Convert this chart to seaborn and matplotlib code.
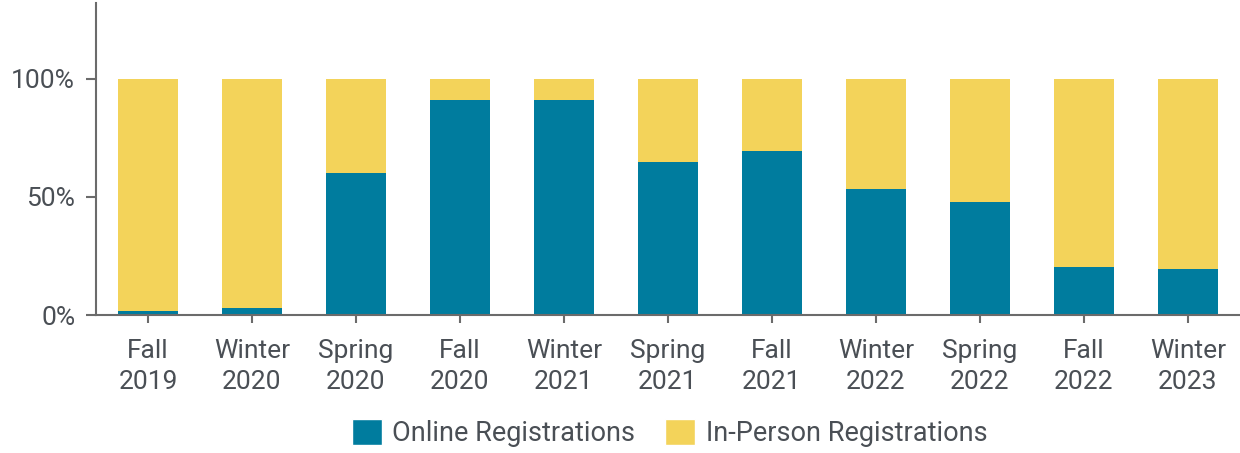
import matplotlib
matplotlib.use("Agg")
import matplotlib.pyplot as plt
import seaborn as sns
import pandas as pd
from matplotlib.patches import Patch
from matplotlib.ticker import FuncFormatter

terms = ["Fall\n2019", "Winter\n2020", "Spring\n2020", "Fall\n2020", "Winter\n2021",
         "Spring\n2021", "Fall\n2021", "Winter\n2022", "Spring\n2022", "Fall\n2022",
         "Winter\n2023"]
online = [1.7, 3.0, 60.2, 91.1, 91.1, 64.8, 69.5, 53.4, 47.9, 20.3, 19.5]
in_person = [100 - v for v in online]

TEAL = "#007c9e"
YELLOW = "#f3d35a"
TEXT = "#4a4f55"
AXIS = "#6b6b6b"

df = pd.DataFrame({"term": terms, "online": online, "in_person": in_person})
df["total"] = df["online"] + df["in_person"]

sns.set_style("white")
plt.rcParams["font.family"] = ["Roboto", "DejaVu Sans"]

fig = plt.figure(figsize=(12.4, 4.53), dpi=100)
ax = fig.add_axes([0.0774, 0.3046, 0.9226, 0.6884])

sns.barplot(data=df, x="term", y="total", color=YELLOW, width=0.58, saturation=1,
            linewidth=0, ax=ax)
sns.barplot(data=df, x="term", y="online", color=TEAL, width=0.58, saturation=1,
            linewidth=0, ax=ax)

ax.set_xlim(-0.5, 10.5)
ax.set_ylim(0, 132)
ax.set_yticks([0, 50, 100])
ax.yaxis.set_major_formatter(FuncFormatter(lambda v, p: f"{v:.0f}%"))
ax.set_xlabel("")
ax.set_ylabel("")

for s in ["top", "right"]:
    ax.spines[s].set_visible(False)
for s in ["left", "bottom"]:
    ax.spines[s].set_color(AXIS)
    ax.spines[s].set_linewidth(1.5)

ax.tick_params(axis="x", length=6, width=1.5, color=AXIS, labelcolor=TEXT,
               labelsize=19, pad=11)
ax.tick_params(axis="y", length=7, width=1.5, color=AXIS, labelcolor=TEXT,
               labelsize=19, pad=8)
ax.tick_params(axis="both", bottom=True, left=True)
for lab in ax.get_xticklabels():
    lab.set_linespacing(1.4)

handles = [Patch(facecolor=TEAL, label="Online Registrations"),
           Patch(facecolor=YELLOW, label="In-Person Registrations")]
fig.legend(handles=handles, loc="lower center", bbox_to_anchor=(0.54, -0.04),
           ncol=2, frameon=False, fontsize=19.5, labelcolor=TEXT,
           handlelength=1.1, handleheight=1.1, handletextpad=0.4, columnspacing=1.1)

fig.savefig("out.png", dpi=100)
